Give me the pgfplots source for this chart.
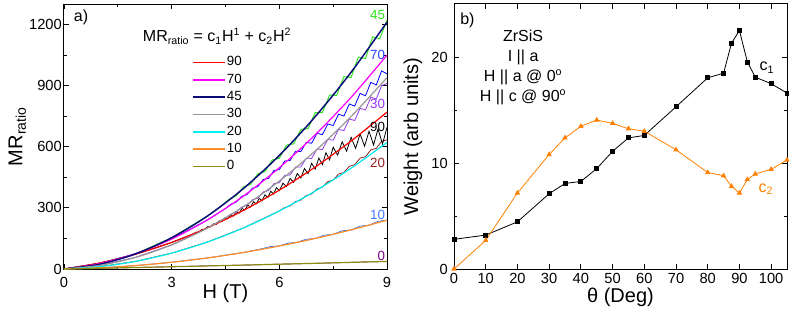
\documentclass[border=0pt]{standalone}
\usepackage{fontspec}
\setmainfont{Liberation Sans}
\usepackage{pgfplots}
\pgfplotsset{compat=1.18}
\definecolor{cRed}{RGB}{255,0,0}
\definecolor{cMag}{RGB}{255,0,255}
\definecolor{cNavy}{RGB}{10,10,120}
\definecolor{cGray}{RGB}{150,150,150}
\definecolor{cCyan}{RGB}{0,240,240}
\definecolor{cOrange}{RGB}{255,140,40}
\definecolor{cOlive}{RGB}{140,140,20}
\definecolor{dGreen}{RGB}{40,230,20}
\definecolor{dBlue}{RGB}{0,0,255}
\definecolor{dPurple}{RGB}{150,60,230}
\definecolor{dBrown}{RGB}{150,30,30}
\definecolor{dSteel}{RGB}{70,120,230}
\definecolor{dZero}{RGB}{128,0,128}
\definecolor{bOrange}{RGB}{255,128,0}
\pgfplotsset{
  myaxis/.style={
    scale only axis, height=198.75pt,
    tick align=inside, major tick length=3.5pt, minor tick length=2pt,
    tick style={black, line width=0.6pt},
    axis line style={line width=0.75pt},
    /pgf/number format/assume math mode=true,
    scaled ticks=false,
    /pgf/number format/1000 sep={},
  }
}
\begin{document}
\begin{tikzpicture}
\useasboundingbox (-48pt,-36.75pt) rectangle (543.75pt,201.75pt);
% ---------------- panel a
\begin{axis}[myaxis,
  at={(0,0)}, anchor=south west, width=242.25pt,
  xmin=0, xmax=9, ymin=0, ymax=1300,
  xtick={0,3,6,9}, ytick={0,300,600,900,1200},
  minor x tick num=1, minor y tick num=1,
  xlabel={H (T)}, ylabel={MR\textsubscript{ratio}},
  label style={font=\fontsize{15}{18}\selectfont},
  xlabel style={at={(axis description cs:0.5,-0.0906)}, anchor=center},
  ylabel style={at={(axis description cs:-0.1445,0.5)}, anchor=center},
  tick label style={font=\fontsize{11}{12}\selectfont},
  yticklabel style={inner sep=0pt, xshift=-1.5pt},
  xticklabel style={inner sep=0pt, yshift=-6pt},
  legend style={at={(axis description cs:0.396,0.813)}, anchor=north west,
    draw=none, fill=none, inner sep=0pt, row sep=0pt,
    font=\fontsize{10}{12}\selectfont,
    nodes={inner sep=1pt, text height=8pt, text depth=3pt}},
  legend cell align=left,
  legend image code/.code={\draw[#1, line width=1.1pt] (0pt,0pt) -- (24pt,0pt);},
]
% data curves
\addplot[dZero, line width=0.5pt, forget plot] coordinates {(0,0)(1,3)(2,7.5)(3,11)(4,15.5)(5,19)(6,23.8)(7,27.5)(8,32.8)(9,37)};
\addplot[dSteel, line width=0.6pt, forget plot] coordinates {(0,0)(1,5.8)(2,16.8)(3,33)(4,54.4)(5,81)(5.5,99)(5.75,109.9)(6,113.3)(6.25,127.1)(6.5,131.2)(6.75,146.1)(7,149.8)(7.25,165.9)(7.5,170.3)(7.75,187.5)(8,191.5)(8.25,210.4)(8.5,214.6)(8.75,234.1)(9,239.4)};
\addplot[dBrown, line width=0.6pt, forget plot] coordinates {(0,0)(1,11.6)(2,37.6)(3,77.9)(4,132.5)(5,201.5)(6,284.8)(6.15,301.6)(6.3,309.6)(6.45,330.5)(6.6,338.2)(6.75,360.7)(6.9,368.1)(7.05,392.7)(7.2,401.2)(7.35,428.6)(7.5,436.7)(7.65,465.7)(7.8,473.4)(7.95,504.0)(8.1,511.5)(8.25,543.7)(8.4,550.8)(8.55,584.7)(8.7,591.4)(8.85,627.0)(9,633.3)};
\addplot[black, line width=0.6pt, forget plot] coordinates {(0,0)(1,29.5)(2,73)(3,130.5)(3.6,171.7)(3.68,180.2)(3.76,181.5)(3.84,193.6)(3.92,193.7)(4.00,207.3)(4.08,206.2)(4.16,221.3)(4.24,219.1)(4.32,235.7)(4.40,232.4)(4.48,250.5)(4.56,246.0)(4.64,265.6)(4.72,259.9)(4.80,281.1)(4.88,274.3)(4.96,296.9)(5.04,289.0)(5.12,313.1)(5.20,304.0)(5.28,329.7)(5.36,319.5)(5.44,346.6)(5.52,335.2)(5.60,363.8)(5.68,351.3)(5.76,381.5)(5.84,367.8)(5.92,399.5)(6.00,384.6)(6.1,420.6)(6.2,404.9)(6.3,444.2)(6.4,425.2)(6.5,468.3)(6.6,446.2)(6.7,493.1)(6.8,467.7)(6.9,518.3)(7.0,489.8)(7.1,544.1)(7.2,512.5)(7.3,570.6)(7.4,535.7)(7.5,597.5)(7.625,558.7)(7.75,624.5)(7.875,578.2)(8.0,646)(8.125,591.7)(8.25,662.5)(8.375,602.2)(8.5,676)(8.625,608.7)(8.75,686.5)(8.875,613.2)(9.0,695)};
\addplot[dPurple, line width=0.6pt, forget plot] coordinates {(0,0)(1,17.9)(2,57.4)(3,118.5)(4,201.2)(4.5,250.7)(4.65,269.1)(4.8,279.7)(4.95,303.6)(5.1,312.7)(5.25,340.0)(5.4,347.7)(5.55,378.3)(5.7,384.6)(5.85,418.5)(6.0,423.4)(6.15,459.3)(6.3,461.2)(6.45,500.4)(6.6,500.9)(6.75,543.5)(6.9,542.6)(7.05,588.6)(7.2,586.2)(7.35,635.5)(7.5,631.8)(7.65,684.5)(7.8,679.3)(7.95,735.3)(8.1,728.7)(8.25,788.2)(8.4,780.1)(8.55,842.9)(8.7,833.4)(8.85,899.6)(9.0,910)};
\addplot[dBlue, line width=0.6pt, forget plot] coordinates {(0,0)(1,26.6)(2,75.6)(3,147.2)(4,241.2)(4.5,296.7)(4.65,318.0)(4.8,328.3)(4.95,356.3)(5.1,365.1)(5.25,396.6)(5.4,403.9)(5.55,438.8)(5.7,444.7)(5.85,483.2)(6.0,487.5)(6.15,529.5)(6.3,532.3)(6.45,577.9)(6.6,576.4)(6.75,621.4)(6.9,616.9)(7.05,665.3)(7.2,659.5)(7.35,711.4)(7.5,704.0)(7.65,759.4)(7.8,750.5)(7.95,809.6)(8.1,799.1)(8.25,861.7)(8.4,849.7)(8.55,915.8)(8.7,902.4)(8.85,972.0)(9.0,957.1)};
\addplot[dGreen, line width=0.7pt, forget plot] coordinates {(0,0)(1,23.4)(2,74.5)(3,153.5)(4,260.3)(4.4,310.8)(4.6,342.7)(4.8,359.7)(5.0,402.9)(5.2,416.1)(5.4,466.5)(5.6,478.0)(5.8,534.5)(6.0,543.2)(6.2,608.0)(6.4,614.0)(6.6,685.0)(6.8,689.1)(7.0,767.4)(7.2,767.8)(7.4,853.2)(7.6,851.8)(7.8,943.5)(8.0,939.4)(8.2,1039.3)(8.4,1032.3)(8.6,1138.5)(8.8,1129.8)(9.0,1221)};
% fits
\addplot[cRed, line width=0.9pt, smooth] coordinates {(0,0)(1,29.5)(2,73)(3,130.5)(4,202)(5,287.5)(6,387)(7,500.5)(8,628)(9,769.5)};
\addlegendentry{90}
\addplot[cMag, line width=0.9pt, smooth] coordinates {(0,0)(1,26.55)(2,75.6)(3,147.15)(4,241.2)(5,357.75)(6,496.8)(7,658.35)(8,842.4)(9,1048.95)};
\addlegendentry{70}
\addplot[cNavy, line width=1.1pt, smooth] coordinates {(0,0)(1,23.37)(2,74.54)(3,153.51)(4,260.28)(5,394.85)(6,557.22)(7,747.39)(8,965.36)(9,1211.13)};
\addlegendentry{45}
\addplot[cGray, line width=0.9pt, smooth] coordinates {(0,0)(1,17.9)(2,57.4)(3,118.5)(4,201.2)(5,305.5)(6,431.4)(7,578.9)(8,748)(9,938.7)};
\addlegendentry{30}
\addplot[cCyan, line width=0.9pt, smooth] coordinates {(0,0)(1,11.62)(2,37.58)(3,77.88)(4,132.52)(5,201.5)(6,284.82)(7,382.48)(8,494.48)(9,620.82)};
\addlegendentry{20}
\addplot[cOrange, line width=0.9pt, smooth] coordinates {(0,0)(1,5.8)(2,16.8)(3,33)(4,54.4)(5,81)(6,112.8)(7,149.8)(8,192)(9,239.4)};
\addlegendentry{10}
\addplot[cOlive, line width=0.9pt, smooth] coordinates {(0,0)(1,3.57)(2,7.28)(3,11.13)(4,15.12)(5,19.25)(6,23.52)(7,27.93)(8,32.48)(9,37.17)};
\addlegendentry{0}
% annotations
\node[anchor=north west, inner sep=0pt, font=\fontsize{12}{14}\selectfont] at (axis description cs:0.03,0.977) {a)};
\node[anchor=base, inner sep=0pt, font=\fontsize{12}{14}\selectfont] at (axis description cs:0.474,0.858) {MR\textsubscript{ratio} = c\textsubscript{1}H\textsuperscript{1} + c\textsubscript{2}H\textsuperscript{2}};
\begin{scope}[every node/.style={anchor=east, inner sep=0.5pt, font=\fontsize{10}{12}\selectfont}]
\node[text=dGreen] at (axis cs:8.97,1244) {45};
\node[text={rgb,255:red,40;green,60;blue,255}] at (axis cs:8.97,1048) {70};
\node[text={rgb,255:red,153;green,51;blue,255}] at (axis cs:8.97,812) {30};
\node[text=black] at (axis cs:8.97,695) {90};
\node[text=dBrown] at (axis cs:8.97,518) {20};
\node[text={rgb,255:red,70;green,120;blue,255}] at (axis cs:8.97,266) {10};
\node[text=dZero] at (axis cs:8.97,65) {0};
\end{scope}
\end{axis}
% ---------------- panel b
\begin{axis}[myaxis,
  at={(292.5pt,0)}, anchor=south west, width=249.75pt,
  xmin=0, xmax=105, ymin=0, ymax=25,
  xtick={0,10,...,100}, ytick={0,10,20},
  minor y tick num=1,
  xlabel={θ (Deg)}, ylabel={Weight (arb units)},
  label style={font=\fontsize{15}{18}\selectfont},
  xlabel style={at={(axis description cs:0.5,-0.1057)}, anchor=center},
  ylabel style={at={(axis description cs:-0.123,0.5)}, anchor=center},
  tick label style={font=\fontsize{11}{13}\selectfont},
  yticklabel style={inner sep=0pt, xshift=-4.5pt},
  xticklabel style={inner sep=0pt, yshift=-3pt},
]
\addplot[black, line width=0.6pt, mark=square*, mark size=1.5pt] coordinates {(0,2.8)(10,3.2)(20,4.45)(30,7.1)(35,8.07)(40,8.26)(45,9.47)(50,11.1)(55,12.37)(60,12.6)(70,15.3)(80,18.04)(85,18.47)(87.5,21.3)(90,22.5)(92.5,19.53)(95,18.1)(100,17.48)(105,16.6)};
\addplot[bOrange, line width=0.6pt, mark=triangle*, mark size=1.8pt] coordinates {(0,0)(10,2.7)(20,7.17)(30,10.8)(35,12.37)(40,13.46)(45,14.05)(50,13.74)(55,13.24)(60,13.0)(70,11.25)(80,9.1)(85,8.8)(87.5,7.8)(90,7.17)(92.5,8.44)(95,8.97)(100,9.4)(105,10.28)};
\node[anchor=north west, inner sep=0pt, font=\fontsize{12}{14}\selectfont] at (axis description cs:0.018,0.966) {b)};
\node[anchor=north, inner sep=0pt, align=center, font=\fontsize{12}{15}\selectfont] at (axis cs:21.8,22.6) {ZrSiS\\I || a\\H || a @ 0\textsuperscript{o}\\H || c @ 90\textsuperscript{o}};
\node[anchor=base west, inner sep=0pt, font=\fontsize{12}{14}\selectfont] at (axis cs:96.3,18.7) {c\textsubscript{1}};
\node[anchor=base west, inner sep=0pt, text=bOrange, font=\fontsize{12}{14}\selectfont] at (axis cs:96,7.25) {c\textsubscript{2}};
\end{axis}
\end{tikzpicture}
\end{document}
